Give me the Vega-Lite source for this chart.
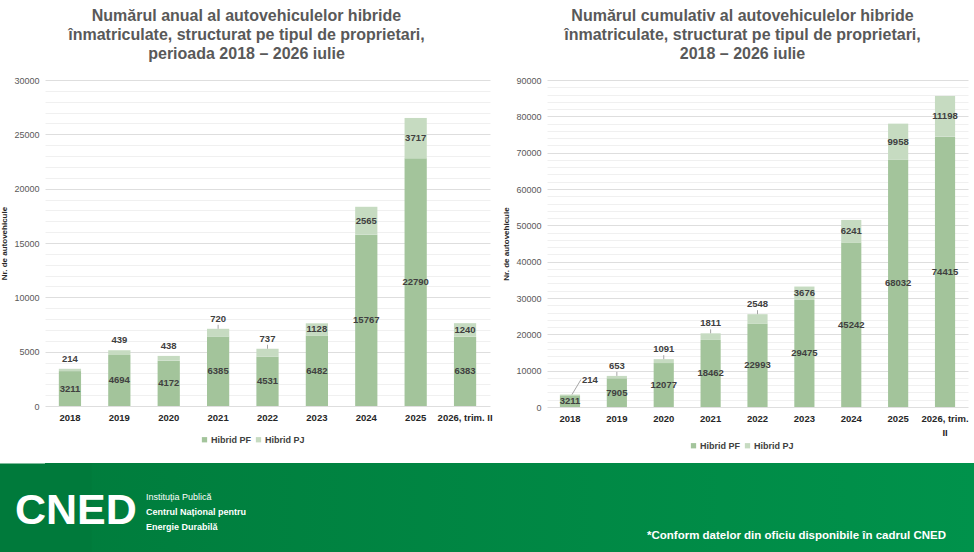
{
  "$schema": "https://vega.github.io/schema/vega-lite/v6.json",
  "description": "Autovehicule hibride inmatriculate, anual si cumulativ, pe tipul de proprietari",
  "background": "white",
  "padding": {"top": 8, "left": 0, "right": 0, "bottom": 0},
  "config": {
    "font": "Liberation Sans",
    "view": {"stroke": null},
    "title": {"fontSize": 16, "fontWeight": "bold", "color": "#595959", "lineHeight": 19, "anchor": "middle", "offset": 14},
    "axisX": {"ticks": false, "domain": false, "labelAngle": 0, "labelFontSize": 9.5, "labelFontWeight": "bold", "labelColor": "#262626", "labelPadding": 6, "title": null, "grid": false},
    "axisY": {"ticks": false, "domain": false, "labelFontSize": 9, "labelColor": "#595959", "labelPadding": 6, "labelOverlap": false, "labelFlush": false, "titleFontSize": 8, "titleFontWeight": "bold", "titleColor": "#262626", "titlePadding": 5},
    "legend": {"orient": "none", "direction": "horizontal", "title": null, "symbolType": "square", "symbolSize": 28, "labelFontSize": 9, "labelFontWeight": "bold", "labelColor": "#404040", "columnPadding": 3, "labelOffset": 2, "symbolStrokeWidth": 0},
    "text": {"fontSize": 9.5, "fontWeight": "bold", "color": "#404040", "baseline": "middle"}
  },
  "datasets": {
    "anual": [
      {"an": "2018", "Hibrid PF": 3211, "Hibrid PJ": 214},
      {"an": "2019", "Hibrid PF": 4694, "Hibrid PJ": 439},
      {"an": "2020", "Hibrid PF": 4172, "Hibrid PJ": 438},
      {"an": "2021", "Hibrid PF": 6385, "Hibrid PJ": 720},
      {"an": "2022", "Hibrid PF": 4531, "Hibrid PJ": 737},
      {"an": "2023", "Hibrid PF": 6482, "Hibrid PJ": 1128},
      {"an": "2024", "Hibrid PF": 15767, "Hibrid PJ": 2565},
      {"an": "2025", "Hibrid PF": 22790, "Hibrid PJ": 3717},
      {"an": "2026, trim. II", "Hibrid PF": 6383, "Hibrid PJ": 1240}
    ],
    "cumulativ": [
      {"an": "2018", "Hibrid PF": 3211, "Hibrid PJ": 214},
      {"an": "2019", "Hibrid PF": 7905, "Hibrid PJ": 653},
      {"an": "2020", "Hibrid PF": 12077, "Hibrid PJ": 1091},
      {"an": "2021", "Hibrid PF": 18462, "Hibrid PJ": 1811},
      {"an": "2022", "Hibrid PF": 22993, "Hibrid PJ": 2548},
      {"an": "2023", "Hibrid PF": 29475, "Hibrid PJ": 3676},
      {"an": "2024", "Hibrid PF": 45242, "Hibrid PJ": 6241},
      {"an": "2025", "Hibrid PF": 68032, "Hibrid PJ": 9958},
      {"an": "2026, trim. II", "Hibrid PF": 74415, "Hibrid PJ": 11198}
    ],
    "subsol": [
      {"zona": "stanga", "parte": "sigla", "text": "CNED"},
      {"zona": "stanga", "parte": "institutie", "text": "Instituția Publică"},
      {"zona": "stanga", "parte": "denumire", "text": "Centrul Național pentru\nEnergie Durabilă"},
      {"zona": "dreapta", "parte": "nota", "text": "*Conform datelor din oficiu disponibile în cadrul CNED"}
    ]
  },
  "concat": [
    {
      "hconcat": [
        {
          "width": 445,
          "height": 326,
          "title": {"text": ["Numărul anual al autovehiculelor hibride", "înmatriculate, structurat pe tipul de proprietari,", "perioada 2018 – 2026 iulie"], "frame": "bounds"},
          "data": {"name": "anual"},
          "transform": [
            {"fold": ["Hibrid PF", "Hibrid PJ"], "as": ["tip", "valoare"]},
            {"stack": "valoare", "groupby": ["an"], "sort": [{"field": "tip", "order": "ascending"}], "as": ["v0", "v1"]}
          ],
          "encoding": {
            "x": {"field": "an", "type": "ordinal", "scale": {"paddingInner": 0.55, "paddingOuter": 0.28}}
          },
          "layer": [
            {
              "mark": {"type": "bar"},
              "encoding": {
                "y": {"field": "v0", "type": "quantitative", "title": "Nr. de autovehicule",
                  "scale": {"domain": [0, 30000], "nice": false},
                  "axis": {"tickCount": 30, "labelExpr": "datum.value % 5000 == 0 ? format(datum.value, 'd') : ''",
                    "gridColor": {"condition": {"test": "datum.value % 5000 == 0", "value": "#dedede"}, "value": "#f0f0f0"}}},
                "y2": {"field": "v1"},
                "color": {"field": "tip", "type": "nominal", "scale": {"domain": ["Hibrid PF", "Hibrid PJ"], "range": ["#a3c49b", "#c6dbc1"]}, "legend": {"legendX": 155, "legendY": 355}}
              }
            },
            {
              "transform": [
                {"fold": ["v0", "v1"], "as": ["capat", "poz"]},
                {"aggregate": [{"op": "mean", "field": "poz", "as": "mijloc"}, {"op": "max", "field": "v1", "as": "varf"}, {"op": "max", "field": "valoare", "as": "valoare"}], "groupby": ["an", "tip"]}
              ],
              "layer": [
                {
                  "transform": [{"filter": "datum.tip == 'Hibrid PF' || datum.valoare >= 1000"}],
                  "mark": {"type": "text"},
                  "encoding": {"y": {"field": "mijloc", "type": "quantitative", "title": "Nr. de autovehicule"}, "text": {"field": "valoare", "type": "quantitative", "format": "d"}}
                },
                {
                  "transform": [{"filter": "datum.tip == 'Hibrid PJ' && datum.valoare < 1000"}],
                  "mark": {"type": "text", "dy": -10},
                  "encoding": {"y": {"field": "varf", "type": "quantitative", "title": "Nr. de autovehicule"}, "text": {"field": "valoare", "type": "quantitative", "format": "d"}}
                },
                {
                  "transform": [{"filter": "datum.tip == 'Hibrid PJ' && datum.valoare >= 700 && datum.valoare < 1000"}],
                  "mark": {"type": "rule", "color": "#a6a6a6", "strokeWidth": 1, "y2Offset": -4},
                  "encoding": {"y": {"field": "varf", "type": "quantitative", "title": "Nr. de autovehicule"}, "y2": {"field": "varf"}}
                }
              ]
            }
          ]
        },
        {
          "width": 421,
          "height": 327,
          "title": {"text": ["Numărul cumulativ al autovehiculelor hibride", "înmatriculate, structurat pe tipul de proprietari,", "2018 – 2026 iulie"], "frame": "group", "dx": -15},
          "data": {"name": "cumulativ"},
          "transform": [
            {"fold": ["Hibrid PF", "Hibrid PJ"], "as": ["tip", "valoare"]},
            {"stack": "valoare", "groupby": ["an"], "sort": [{"field": "tip", "order": "ascending"}], "as": ["v0", "v1"]}
          ],
          "encoding": {
            "x": {"field": "an", "type": "ordinal", "scale": {"paddingInner": 0.57, "paddingOuter": 0.275},
              "axis": {"labelExpr": "datum.value == '2026, trim. II' ? ['2026, trim.', 'II'] : datum.value", "labelLineHeight": 14}}
          },
          "layer": [
            {
              "mark": {"type": "bar"},
              "encoding": {
                "y": {"field": "v0", "type": "quantitative", "title": "Nr. de autovehicule",
                  "scale": {"domain": [0, 90000], "nice": false},
                  "axis": {"tickCount": 45, "labelExpr": "datum.value % 10000 == 0 ? format(datum.value, 'd') : ''",
                    "gridColor": {"condition": {"test": "datum.value % 10000 == 0", "value": "#dedede"}, "value": "#f0f0f0"}}},
                "y2": {"field": "v1"},
                "color": {"field": "tip", "type": "nominal", "scale": {"domain": ["Hibrid PF", "Hibrid PJ"], "range": ["#a3c49b", "#c6dbc1"]}, "legend": {"legendX": 142, "legendY": 361}}
              }
            },
            {
              "transform": [
                {"fold": ["v0", "v1"], "as": ["capat", "poz"]},
                {"aggregate": [{"op": "mean", "field": "poz", "as": "mijloc"}, {"op": "max", "field": "v1", "as": "varf"}, {"op": "max", "field": "valoare", "as": "valoare"}], "groupby": ["an", "tip"]}
              ],
              "layer": [
                {
                  "transform": [{"filter": "datum.tip == 'Hibrid PF' || datum.valoare >= 3000"}],
                  "mark": {"type": "text"},
                  "encoding": {"y": {"field": "mijloc", "type": "quantitative", "title": "Nr. de autovehicule"}, "text": {"field": "valoare", "type": "quantitative", "format": "d"}}
                },
                {
                  "transform": [{"filter": "datum.tip == 'Hibrid PJ' && datum.valoare >= 500 && datum.valoare < 3000"}],
                  "mark": {"type": "text", "dy": -10},
                  "encoding": {"y": {"field": "varf", "type": "quantitative", "title": "Nr. de autovehicule"}, "text": {"field": "valoare", "type": "quantitative", "format": "d"}}
                },
                {
                  "transform": [{"filter": "datum.tip == 'Hibrid PJ' && datum.valoare >= 500 && datum.valoare < 3000"}],
                  "mark": {"type": "rule", "color": "#a6a6a6", "strokeWidth": 1, "y2Offset": -4},
                  "encoding": {"y": {"field": "varf", "type": "quantitative", "title": "Nr. de autovehicule"}, "y2": {"field": "varf"}}
                },
                {
                  "transform": [{"filter": "datum.tip == 'Hibrid PJ' && datum.valoare < 500"}],
                  "mark": {"type": "text", "dx": 20, "dy": -15},
                  "encoding": {"y": {"field": "varf", "type": "quantitative", "title": "Nr. de autovehicule"}, "text": {"field": "valoare", "type": "quantitative", "format": "d"}}
                },
                {
                  "transform": [{"filter": "datum.tip == 'Hibrid PJ' && datum.valoare < 500"}],
                  "mark": {"type": "rule", "color": "#a6a6a6", "strokeWidth": 1, "xOffset": 2, "x2Offset": 11, "y2Offset": -15},
                  "encoding": {"x2": {"field": "an"}, "y": {"field": "varf", "type": "quantitative", "title": "Nr. de autovehicule"}, "y2": {"field": "varf"}}
                }
              ]
            }
          ]
        }
      ],
      "spacing": 9,
      "resolve": {"scale": {"color": "independent", "x": "independent", "y": "independent"}, "legend": {"color": "independent"}}
    },
    {
      "width": 930,
      "height": 89,
      "view": {"fill": {"gradient": "linear", "x1": 0, "y1": 0, "x2": 1, "y2": 0, "stops": [{"offset": 0, "color": "#007c3c"}, {"offset": 1, "color": "#00924b"}]}, "stroke": null},
      "data": {"name": "subsol"},
      "encoding": {
        "x": {"field": "zona", "type": "nominal", "scale": {"type": "point", "domain": ["stanga", "dreapta"], "padding": 0}, "axis": null}
      },
      "layer": [
        {
          "mark": {"type": "rule", "opacity": 0},
          "encoding": {
            "x": {"value": 0},
            "y": {"datum": 0, "type": "quantitative", "scale": {"domain": [0, 1]},
              "axis": {"title": null, "labels": false, "ticks": false, "grid": false, "domain": true, "domainWidth": 92, "domainColor": "#007a3b", "domainCap": "butt"}}
          }
        },
        {
          "transform": [{"filter": "datum.parte == 'sigla'"}],
          "mark": {"type": "text", "align": "left", "dx": -30, "dy": 3, "font": "Liberation Sans", "fontSize": 43, "fontWeight": "bold", "color": "white"},
          "encoding": {"text": {"field": "text"}}
        },
        {
          "transform": [{"filter": "datum.parte == 'institutie'"}],
          "mark": {"type": "text", "align": "left", "dx": 101, "dy": -11, "font": "Liberation Sans", "fontSize": 9, "fontWeight": "normal", "color": "white"},
          "encoding": {"text": {"field": "text"}}
        },
        {
          "transform": [{"filter": "datum.parte == 'denumire'"}],
          "mark": {"type": "text", "align": "left", "dx": 101, "dy": 4, "baseline": "middle", "lineBreak": "\n", "lineHeight": 15, "font": "Liberation Sans", "fontSize": 9, "fontWeight": "bold", "color": "white"},
          "encoding": {"text": {"field": "text"}}
        },
        {
          "transform": [{"filter": "datum.parte == 'nota'"}],
          "mark": {"type": "text", "align": "right", "dx": -29, "dy": 28, "font": "Liberation Sans", "fontSize": 11.5, "fontWeight": "bold", "color": "white"},
          "encoding": {"text": {"field": "text"}}
        }
      ]
    }
  ],
  "columns": 1,
  "spacing": 12,
  "resolve": {"scale": {"x": "independent", "y": "independent", "color": "independent"}}
}
